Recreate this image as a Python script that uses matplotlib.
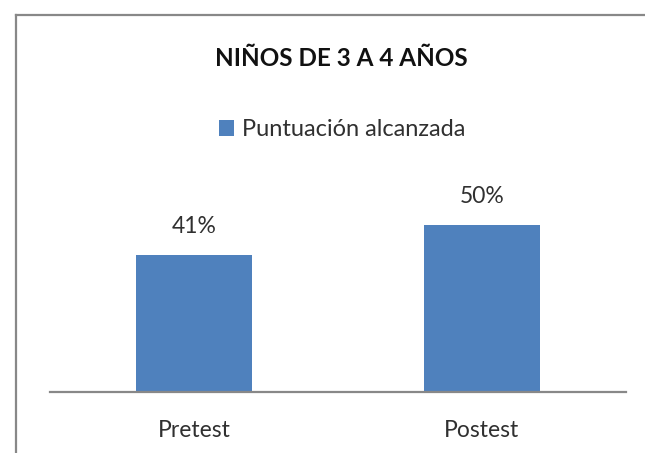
import matplotlib
matplotlib.use('Agg')
from matplotlib import pyplot as plt
from matplotlib.lines import Line2D

categories = ['Pretest', 'Postest']
values = [0.41, 0.50]
value_labels = ['41%', '50%']
title = 'NIÑOS DE 3 A 4 AÑOS'
series_name = 'Puntuación alcanzada'

plt.rcParams['font.family'] = ['Lato', 'DejaVu Sans']

W, H = 645, 453
fig = plt.figure(figsize=(W / 100, H / 100), dpi=100)

# chart border (top and left only visible)
fig.add_artist(Line2D([16 / W, 16 / W], [0, 1 - 15 / H], transform=fig.transFigure,
                      color='#888888', lw=1.6))
fig.add_artist(Line2D([16 / W, 1], [1 - 15 / H, 1 - 15 / H], transform=fig.transFigure,
                      color='#888888', lw=1.6))

ax = fig.add_axes([50 / W, (H - 392) / H, 576 / W, 201 / H])
x = list(range(len(categories)))
bars = ax.bar(x, values, width=0.4, color='#4F81BD', label=series_name)
ax.set_xlim(-0.5, 1.5)
ax.set_ylim(0, 0.6)
ax.set_xticks(x)
ax.set_xticklabels(categories, fontsize=16.5, color='#303030')
ax.tick_params(axis='x', length=0, pad=20)
ax.set_yticks([])
for s in ['top', 'right', 'left']:
    ax.spines[s].set_visible(False)
ax.spines['bottom'].set_color('#888888')
ax.spines['bottom'].set_linewidth(1.6)

for xi, v, lab in zip(x, values, value_labels):
    ax.annotate(lab, (xi, v), xytext=(0, 28), textcoords='offset pixels',
                ha='center', va='center', fontsize=16.5, color='#303030')

fig.text(341 / W, 1 - 58 / H, title, ha='center', va='center',
         fontsize=17.5, fontweight='bold', color='#111111')

fig.legend(handles=[bars], loc='center', bbox_to_anchor=(342 / W, 1 - 130 / H),
           frameon=False, fontsize=17, handlelength=0.65, handleheight=0.65,
           handletextpad=0.3, labelcolor='#303030')

fig.savefig('out.png', dpi=100)
